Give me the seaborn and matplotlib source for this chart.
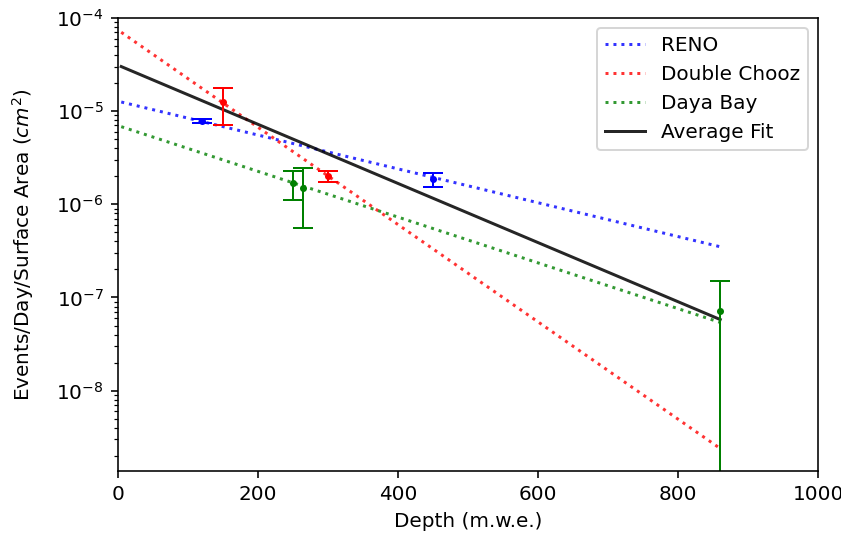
import matplotlib
matplotlib.use("Agg")
import matplotlib.pyplot as plt
import seaborn as sns

# fit lines (two end points, straight in log space)
depth_fit = [5, 860]
reno_fit = [1.25e-5, 3.5e-7]
dc_fit = [7.0e-5, 2.4e-9]
dyb_fit = [6.8e-6, 5.4e-8]
avg_fit = [3.0e-5, 5.8e-8]

# measured rates with errors
reno_depth = [120, 450]
reno_rate = [7.8e-6, 1.85e-6]
reno_err = [0.4e-6, 0.32e-6]

dc_depth = [150, 300]
dc_rate = [1.24e-5, 2.0e-6]
dc_err = [0.53e-5, 0.27e-6]

dyb_depth = [250, 265, 860]
dyb_rate = [1.68e-6, 1.5e-6, 7.2e-8]
dyb_err = [0.58e-6, 0.94e-6, 8.0e-8]


fig = plt.figure(figsize=(841 / 144, 540 / 144), dpi=144)
ax = fig.add_axes([0.140, 0.128, 0.833, 0.839])

sns.lineplot(x=depth_fit, y=reno_fit, ax=ax, color='b', linestyle=':', alpha=0.8, label='RENO')
sns.lineplot(x=depth_fit, y=dc_fit, ax=ax, color='r', linestyle=':', alpha=0.8, label='Double Chooz')
sns.lineplot(x=depth_fit, y=dyb_fit, ax=ax, color='g', linestyle=':', alpha=0.8, label='Daya Bay')
sns.lineplot(x=depth_fit, y=avg_fit, ax=ax, color='k', alpha=0.85, label='Average Fit')

ebar_style = dict(fmt='.', capsize=5, elinewidth=1, capthick=1, markersize=5)
ax.errorbar(reno_depth, reno_rate, yerr=reno_err, color='b', **ebar_style)
ax.errorbar(dc_depth, dc_rate, yerr=dc_err, color='r', **ebar_style)
ax.errorbar(dyb_depth, dyb_rate, yerr=dyb_err, color='g', **ebar_style)

ax.set_yscale('log')
ax.set_xlim(0, 1000)
ax.set_ylim(1.38e-9, 1e-4)
ax.set_xlabel('Depth (m.w.e.)')
ax.set_ylabel('Events/Day/Surface Area ($cm^2$)', labelpad=10)
ax.legend(loc='upper right')

fig.savefig('out.png', dpi=144)
